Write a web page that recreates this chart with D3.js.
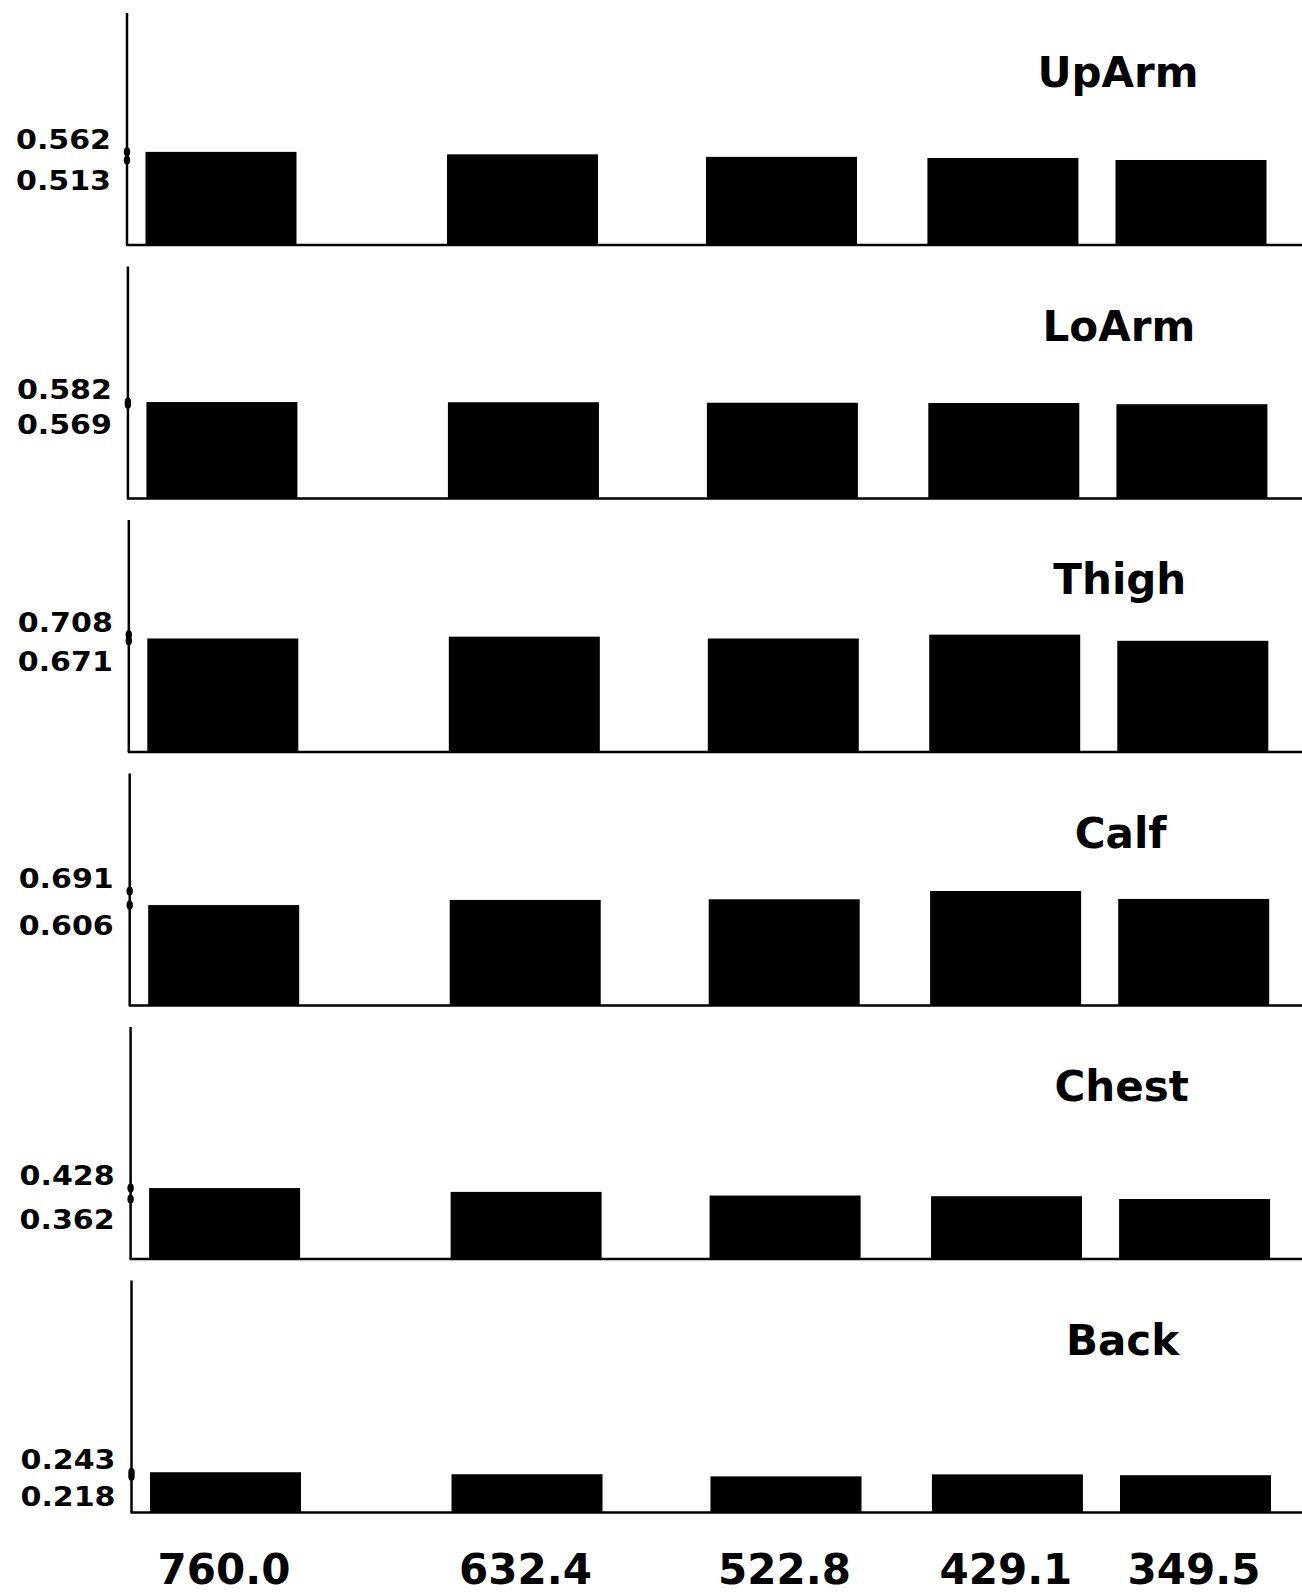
<!DOCTYPE html>
<html>
<head>
<meta charset="utf-8">
<script src="https://cdn.jsdelivr.net/npm/d3@7"></script>
<style>
  html, body { margin: 0; padding: 0; background: #fff; }
  svg { display: block; }
  text { font-family: "DejaVu Sans", "Liberation Sans", sans-serif; font-weight: bold; fill: #000; }
</style>
</head>
<body>
<svg id="chart" width="1302" height="1594"></svg>
<script>
// ---- data ----
const pressures = [760.0, 632.4, 522.8, 429.1, 349.5];
const pressureLabels = ["760.0", "632.4", "522.8", "429.1", "349.5"];
const sites = ["UpArm", "LoArm", "Thigh", "Calf", "Chest", "Back"];
const upArm = [0.562, 0.547, 0.532, 0.525, 0.513];
const loArm = [0.582, 0.581, 0.578, 0.576, 0.569];
const thigh = [0.685, 0.696, 0.685, 0.708, 0.671];
const calf  = [0.606, 0.637, 0.641, 0.691, 0.643];
const chest = [0.428, 0.405, 0.383, 0.379, 0.362];
const back  = [0.243, 0.231, 0.218, 0.230, 0.225];
const seriesValues = [upArm, loArm, thigh, calf, chest, back];
const yDomainMax = 1.4;

// ---- layout ----
const W = 1302, H = 1594;
const panelTop0 = 13, panelStep = 253.5, panelH = 232;
const axisX = 127;
const barW = 151;
const svg = d3.select("#chart");

const x = d3.scaleLinear().domain([760, 349.5]).range([221, 1191]);
const y = d3.scaleLinear().domain([0, yDomainMax]).range([panelH, 0]);
const fmt = d3.format(".3f");

sites.forEach((site, i) => {
  const vals = seriesValues[i];
  const g = svg.append("g")
    .attr("transform", `translate(${i * 0.9},${panelTop0 + i * panelStep})`);

  // bars
  g.selectAll("rect.bar")
    .data(vals)
    .join("rect")
    .attr("class", "bar")
    .attr("x", (d, j) => x(pressures[j]) - barW / 2)
    .attr("y", d => y(d))
    .attr("width", barW)
    .attr("height", d => y(0) - y(d))
    .attr("fill", "#000");

  // y axis line
  g.append("line")
    .attr("x1", axisX).attr("x2", axisX)
    .attr("y1", y(yDomainMax)).attr("y2", y(0))
    .attr("stroke", "#000").attr("stroke-width", 2.5);

  // baseline
  g.append("line")
    .attr("x1", axisX - 1).attr("x2", W)
    .attr("y1", y(0)).attr("y2", y(0))
    .attr("stroke", "#000").attr("stroke-width", 2.5);

  const vMax = d3.max(vals), vMin = d3.min(vals);

  // tick marks (break-style diamonds) at max and min
  [vMax, vMin].forEach(v => {
    g.append("ellipse")
      .attr("cx", axisX).attr("cy", y(v))
      .attr("rx", 3.2).attr("ry", 4.5)
      .attr("fill", "#000");
  });

  // tick labels
  g.append("text")
    .attr("x", 111).attr("y", y(vMax) - 13 + 10)
    .attr("text-anchor", "end")
    .attr("font-size", 27)
    .attr("textLength", 95).attr("lengthAdjust", "spacingAndGlyphs")
    .text(fmt(vMax));
  g.append("text")
    .attr("x", 111).attr("y", y(vMin) + 20 + 10)
    .attr("text-anchor", "end")
    .attr("font-size", 27)
    .attr("textLength", 95).attr("lengthAdjust", "spacingAndGlyphs")
    .text(fmt(vMin));

  // panel title
  g.append("text")
    .attr("x", 1118).attr("y", 74)
    .attr("text-anchor", "middle")
    .attr("font-size", 42)
    .text(site);
});

// x-axis labels (bottom)
svg.append("g").selectAll("text")
  .data(pressures)
  .join("text")
  .attr("x", (d, j) => x(d) + 3)
  .attr("y", 1584)
  .attr("text-anchor", "middle")
  .attr("font-size", 42)
  .text((d, j) => pressureLabels[j]);
</script>
</body>
</html>
